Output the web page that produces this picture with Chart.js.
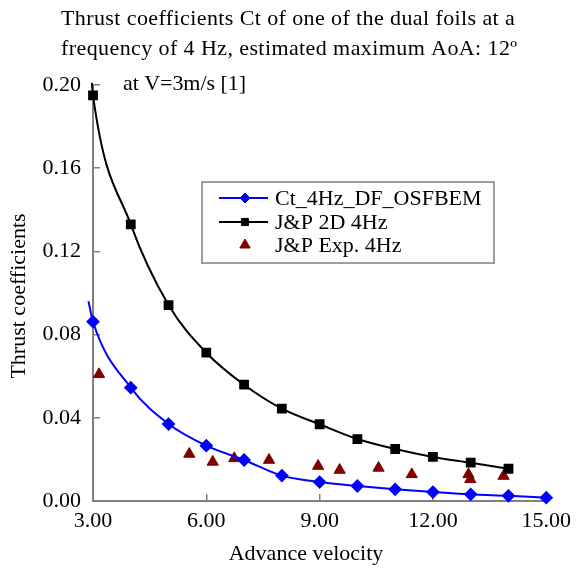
<!DOCTYPE html>
<html>
<head>
<meta charset="utf-8">
<title>Thrust coefficients Ct</title>
<script src="https://cdn.jsdelivr.net/npm/chart.js@4/dist/chart.umd.min.js"></script>
<style>
  html, body { margin: 0; padding: 0; background: #fff; }
  #wrap { width: 585px; height: 569px; position: relative; }
</style>
</head>
<body>
<div id="wrap"><canvas id="ctChart"></canvas></div>
<script>
// advance velocity and thrust coefficients
const velocity = [3, 4, 5, 6, 7, 8, 9, 10, 11, 12, 13, 14, 15];
const ctOsfbem = [0.0862, 0.0545, 0.0370, 0.0266, 0.0197, 0.0122, 0.0091, 0.0072, 0.0056, 0.0043, 0.0032, 0.0025, 0.0016];

const velocity2D = [3, 4, 5, 6, 7, 8, 9, 10, 11, 12, 13, 14];
const ctJp2D = [0.195, 0.133, 0.0942, 0.0713, 0.0559, 0.0444, 0.0369, 0.0298, 0.0250, 0.0212, 0.0184, 0.0155];

const velocityExp = [3.16, 5.55, 6.17, 6.74, 7.66, 8.96, 9.53, 10.56, 11.44, 12.94, 12.99, 13.87];
const ctJpExp = [0.0609, 0.0226, 0.0188, 0.0205, 0.0197, 0.0168, 0.0149, 0.0159, 0.0128, 0.0128, 0.0104, 0.0120];

// the computed curves start a little before the first marker
const leadOsfbem = [2.88, 0.096];
const lead2D = [2.97, 0.201];

const seriesNames = ['Ct_4Hz_DF_OSFBEM', 'J&P 2D 4Hz', 'J&P Exp. 4Hz'];
const titleLines = [
  'Thrust coefficients Ct of one of the dual foils at a',
  'frequency of 4 Hz, estimated maximum AoA: 12º',
  'at V=3m/s [1]'
];
const xTitle = 'Advance velocity';
const yTitle = 'Thrust coefficients';

const FONT = '22px "Liberation Serif", "Times New Roman", serif';

const toPoints = (xs, ys) => xs.map((x, i) => ({ x: x, y: ys[i] }));
const withLead = (lead, pts) => [{ x: lead[0], y: lead[1] }].concat(pts);
const markerOnly = r => ctx => ctx.dataIndex === 0 ? 0 : r;

// draw text spread out to a given width
function fillSpread(ctx, text, x, y, width) {
  ctx.letterSpacing = '0px';
  const w = ctx.measureText(text).width;
  ctx.letterSpacing = ((width - w) / (text.length - 1)).toFixed(2) + 'px';
  ctx.fillText(text, x, y);
  ctx.letterSpacing = '0px';
}

// title lines, axis titles and the boxed legend
const decorations = {
  id: 'decorations',
  afterDraw(chart) {
    const ctx = chart.ctx;
    ctx.save();
    ctx.font = FONT;
    ctx.fillStyle = '#000';
    ctx.textBaseline = 'alphabetic';
    ctx.textAlign = 'left';
    fillSpread(ctx, titleLines[0], 61, 25, 454);
    fillSpread(ctx, titleLines[1], 61, 55, 456);
    fillSpread(ctx, titleLines[2], 123, 90, 123);

    ctx.textAlign = 'center';
    ctx.fillText(xTitle, 306, 560);
    ctx.save();
    ctx.translate(25, 296);
    ctx.rotate(-Math.PI / 2);
    ctx.fillText(yTitle, 0, 0);
    ctx.restore();

    // legend box
    const lg = { x: 202, y: 182, w: 292, h: 81 };
    ctx.fillStyle = '#fff';
    ctx.fillRect(lg.x, lg.y, lg.w, lg.h);
    ctx.strokeStyle = '#808080';
    ctx.lineWidth = 1.5;
    ctx.strokeRect(lg.x, lg.y, lg.w, lg.h);

    const rowY = [198, 222, 245];
    chart.data.datasets.forEach((ds, i) => {
      const y = rowY[i];
      if (ds.showLine) {
        ctx.strokeStyle = ds.borderColor;
        ctx.lineWidth = ds.borderWidth;
        ctx.beginPath();
        ctx.moveTo(219, y);
        ctx.lineTo(268, y);
        ctx.stroke();
      }
      ctx.fillStyle = ds.pointBackgroundColor;
      ctx.strokeStyle = ds.pointBorderColor;
      ctx.lineWidth = 1;
      Chart.helpers.drawPoint(ctx, {
        pointStyle: ds.pointStyle, radius: ds.legendRadius, rotation: 0, borderWidth: 1
      }, 245, y);
      ctx.fillStyle = '#000';
      ctx.textAlign = 'left';
      ctx.fillText(ds.label, 275, y + 7);
    });
    ctx.restore();
  }
};

const chartData = {
  datasets: [
    {
      label: seriesNames[0],
      data: withLead(leadOsfbem, toPoints(velocity, ctOsfbem)),
      showLine: true,
      borderColor: '#0000ff',
      borderWidth: 2,
      cubicInterpolationMode: 'monotone',
      pointStyle: 'rectRot',
      pointRadius: markerOnly(5.5),
      legendRadius: 5,
      pointBackgroundColor: '#0000ff',
      pointBorderColor: '#0000ff',
      clip: false
    },
    {
      label: seriesNames[1],
      data: withLead(lead2D, toPoints(velocity2D, ctJp2D)),
      showLine: true,
      borderColor: '#000000',
      borderWidth: 2,
      cubicInterpolationMode: 'monotone',
      pointStyle: 'rect',
      pointRadius: markerOnly(5.5),
      legendRadius: 5,
      pointBackgroundColor: '#000000',
      pointBorderColor: '#000000',
      clip: false
    },
    {
      label: seriesNames[2],
      data: toPoints(velocityExp, ctJpExp),
      showLine: false,
      borderColor: '#800000',
      pointStyle: 'triangle',
      pointRadius: 6.5,
      legendRadius: 6,
      pointBackgroundColor: '#800000',
      pointBorderColor: '#800000'
    }
  ]
};

const axisColor = '#808080';

new Chart(document.getElementById('ctChart'), {
  type: 'scatter',
  data: chartData,
  options: {
    responsive: true,
    maintainAspectRatio: false,
    animation: false,
    layout: { padding: { top: 85, right: 28, left: 0, bottom: 0 } },
    plugins: {
      legend: { display: false },
      title: { display: false },
      tooltip: { enabled: false }
    },
    scales: {
      x: {
        type: 'linear',
        min: 3,
        max: 15,
        afterFit: scale => { scale.height = 68; },
        border: { display: true, color: axisColor, width: 2 },
        grid: { display: true, drawOnChartArea: false, drawTicks: true, tickLength: -7, color: axisColor, lineWidth: 1.5 },
        ticks: {
          stepSize: 3,
          padding: 14,
          maxRotation: 0,
          color: '#000',
          font: { family: '"Liberation Serif", "Times New Roman", serif', size: 22 },
          callback: v => Number(v).toFixed(2)
        }
      },
      y: {
        min: 0,
        max: 0.2,
        afterFit: scale => { scale.width = 93; },
        border: { display: true, color: axisColor, width: 2 },
        grid: { display: true, drawOnChartArea: false, drawTicks: true, tickLength: -7, color: axisColor, lineWidth: 1.5 },
        ticks: {
          stepSize: 0.04,
          padding: 19,
          color: '#000',
          font: { family: '"Liberation Serif", "Times New Roman", serif', size: 22 },
          callback: v => Number(v).toFixed(2)
        }
      }
    }
  },
  plugins: [decorations]
});
</script>
</body>
</html>
